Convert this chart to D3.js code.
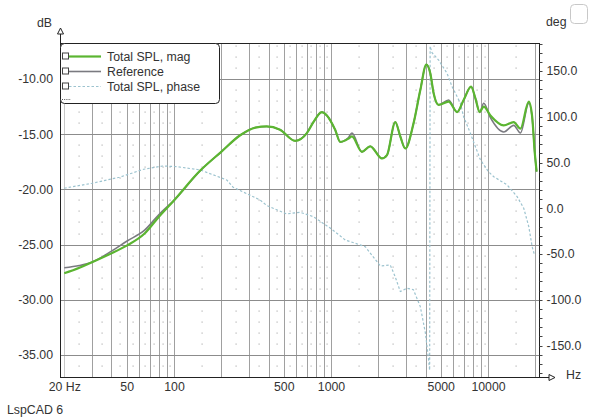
<!DOCTYPE html>
<html><head><meta charset="utf-8">
<script src="https://cdn.jsdelivr.net/npm/d3@7"></script>
<style>
body{margin:0;background:#fff;}
svg text{font-family:"Liberation Sans",Arial,sans-serif;font-size:12.3px;fill:#333;}
</style>
</head><body><svg id="c" width="600" height="419"></svg>
<script>
// ---- data ----
const magFreq = [20,25,30,40,50,65,80,100,147,200,264,330,390,474,591,702,773,875,941,1063,1145,1293,1359,1574,1778,2112,2273,2567,2763,2973,3358,3706,4047,4293,4506,4848,5616,6355,6998,7803,8312,8854,9389,10360,12597,14583,16091,18182,19108,19857,20400];
const magDb   = [-27.6,-27.1,-26.6,-25.8,-25.1,-24.0,-22.5,-21.0,-18.3,-16.6,-15.1,-14.4,-14.3,-14.6,-15.6,-14.9,-13.9,-13.0,-13.3,-14.6,-15.7,-15.4,-15.2,-16.6,-16.1,-17.2,-16.9,-13.9,-15.2,-16.3,-14.0,-11.0,-8.7,-9.5,-11.3,-12.35,-12.05,-13.0,-11.9,-10.7,-11.75,-13.0,-12.5,-13.3,-14.2,-13.9,-14.5,-12.05,-13.4,-16.7,-18.4];
const refDb   = [-27.1,-26.9,-26.6,-25.6,-24.7,-23.7,-22.3,-21.0,-18.3,-16.6,-15.1,-14.4,-14.3,-14.6,-15.6,-14.9,-13.9,-13.0,-13.3,-14.6,-15.7,-15.3,-14.9,-16.6,-16.1,-17.2,-16.9,-13.9,-15.2,-16.3,-14.0,-11.0,-8.7,-9.5,-11.3,-12.35,-11.9,-13.0,-11.9,-10.7,-11.75,-13.0,-12.2,-13.5,-14.8,-14.2,-14.9,-12.2,-13.5,-16.7,-18.4];
const phaseFreq = [20,30,45,64,85,104,147,217,238,354,390,523,636,773,988,1232,1653,2060,2385,2567,2763,3048,3350,3706,3990,4187,4250,4280,4400,4848,5485,5902,6668,6998,7722,8312,8943,10060,10876,13240,15330,16890,18182,19108,19770];
const phaseDeg  = [21.9,27.3,33.9,42.6,46.2,45.5,41.9,30.9,23,9,3,-6.2,-4.4,-9.2,-21.6,-34.6,-42,-63,-62,-75,-91,-87.4,-89,-107.5,-136,-166,-177,177,170,162,147.5,133,114.8,100,82,67.3,53,40,34.5,25.5,12.7,0,-20,-42,-51];
const gridFreq = [20,30,40,50,60,70,80,90,100,200,300,400,500,600,700,800,900,1000,2000,3000,4000,5000,6000,7000,8000,9000,10000,20000];
const dotFreq = [25,35,45,55,65,75,85,95,150,250,350,450,550,650,750,850,950,1500,2500,3500,4500,5500,6500,7500,8500,9500,15000];
const xTicks = [20,50,100,500,1000,5000,10000];
const dbTicks = [-35,-30,-25,-20,-15,-10];
const degTicks = [-150,-100,-50,0,50,100,150];
const seriesNames = ["Total SPL, mag","Reference","Total SPL, phase"];

// ---- scales ----
const L = 60, R = 539.5, T = 43, B = 377;
const x = d3.scaleLog().domain([18.8, 21280]).range([L, R]);
const y = d3.scaleLinear().domain([-37, -6.74]).range([B, T]);
const yr = d3.scaleLinear().domain([-184.4, 180.6]).range([B, T]);

const svg = d3.select("#c");
svg.append("rect").attr("width",600).attr("height",419).attr("fill","#fff");

// minor dots
const dotRows = d3.range(-36, -6).filter(v => v % 5 !== 0);
const gDots = svg.append("g").attr("fill","#b5b5b5");
dotFreq.forEach(f => dotRows.forEach(v => {
  gDots.append("rect").attr("x", Math.round(x(f))-0.5).attr("y", Math.round(y(v))-0.5).attr("width",1.2).attr("height",1.2);
}));

// vertical grid
svg.append("g").selectAll("line").data(gridFreq).join("line")
  .attr("x1", d => Math.round(x(d))+0.5).attr("x2", d => Math.round(x(d))+0.5)
  .attr("y1", T).attr("y2", B)
  .attr("stroke", d => d===20 ? "#c8c8c8" : "#a0a0a0").attr("stroke-width",1);
// horizontal grid
svg.append("g").selectAll("line").data(dbTicks).join("line")
  .attr("x1", L).attr("x2", R)
  .attr("y1", d => Math.round(y(d))+0.5).attr("y2", d => Math.round(y(d))+0.5)
  .attr("stroke","#8c8c8c").attr("stroke-width",1);

// curves
const lineMag = d3.line().x((d,i) => x(magFreq[i])).y(d => y(d)).curve(d3.curveMonotoneX);
const linePh = d3.line().x((d,i) => x(phaseFreq[i])).y(d => yr(d)).curve(d3.curveLinear);
svg.append("path").attr("d", linePh(phaseDeg)).attr("fill","none")
  .attr("stroke","#9cc3cf").attr("stroke-width",1.2).attr("stroke-dasharray","2.5,2");
svg.append("path").attr("d", lineMag(refDb)).attr("fill","none")
  .attr("stroke","#7a7a80").attr("stroke-width",1.6);
svg.append("path").attr("d", lineMag(magDb)).attr("fill","none")
  .attr("stroke","#5bb531").attr("stroke-width",2.2);

// frame lines
svg.append("line").attr("x1",L).attr("x2",R).attr("y1",T+0.5).attr("y2",T+0.5).attr("stroke","#222");
svg.append("line").attr("x1",R).attr("x2",R).attr("y1",T).attr("y2",B).attr("stroke","#222");
svg.append("line").attr("x1",L+0.5).attr("x2",L+0.5).attr("y1",33).attr("y2",B).attr("stroke","#222");
svg.append("line").attr("x1",L).attr("x2",549).attr("y1",B+0.5).attr("y2",B+0.5).attr("stroke","#222");
// arrows (hollow)
svg.append("path").attr("d",`M${L+0.5},28 L${L-2.5},34 L${L+3.5},34 Z`).attr("fill","#fff").attr("stroke","#222");
svg.append("path").attr("d",`M555,${B+0.5} L549,${B-2.5} L549,${B+3.5} Z`).attr("fill","#fff").attr("stroke","#222");

// right axis minor ticks
svg.append("g").selectAll("line").data(d3.range(-180,181,10)).join("line")
  .attr("x1",R).attr("x2",R+3).attr("y1",d=>Math.round(yr(d))+0.5).attr("y2",d=>Math.round(yr(d))+0.5)
  .attr("stroke","#444");

// axes labels via d3 axes
const axL = svg.append("g").attr("transform",`translate(${L-7},0)`)
  .call(d3.axisLeft(y).tickValues(dbTicks).tickSize(0).tickPadding(0).tickFormat(d => d.toFixed(2)));
const axR = svg.append("g").attr("transform",`translate(${R+7},0)`)
  .call(d3.axisRight(yr).tickValues(degTicks).tickSize(0).tickPadding(0).tickFormat(d => d.toFixed(1)));
const axB = svg.append("g").attr("transform",`translate(0,${B+2})`)
  .call(d3.axisBottom(x).tickValues(xTicks).tickSize(0).tickPadding(0).tickFormat(d => d===20 ? "20 Hz" : String(d)));
[axL,axR,axB].forEach(a => { a.select(".domain").remove(); a.selectAll("text").attr("fill","#333").style("font-size","12.3px").style("font-family","Liberation Sans, Arial, sans-serif"); });
axB.selectAll("text").attr("dy","0.95em");

// titles
svg.append("text").attr("x",37).attr("y",27).text("dB");
svg.append("text").attr("x",546).attr("y",26).text("deg");
svg.append("text").attr("x",566).attr("y",379).text("Hz");
svg.append("text").attr("x",7).attr("y",414).text("LspCAD 6");
svg.append("rect").attr("x",570.5).attr("y",4.5).attr("width",17).attr("height",19).attr("rx",4)
  .attr("fill","#fff").attr("stroke","#c8c8c8");

// legend
const lg = svg.append("g");
lg.append("rect").attr("x",L+0.5).attr("y",T+0.5).attr("width",159).attr("height",60).attr("rx",4)
  .attr("fill","#fff").attr("stroke","#222");
const legStyles = [
  {c:"#5bb531", w:2.2, dash:null},
  {c:"#7a7a80", w:1.6, dash:null},
  {c:"#9cc3cf", w:1.2, dash:"2.5,2"}
];
seriesNames.forEach((n,i) => {
  const cy = 56.5 + i*15;
  lg.append("rect").attr("x",62.5).attr("y",cy-3.5).attr("width",6).attr("height",6)
    .attr("fill","#fff").attr("stroke","#444");
  lg.append("line").attr("x1",69).attr("x2",101).attr("y1",cy).attr("y2",cy)
    .attr("stroke",legStyles[i].c).attr("stroke-width",legStyles[i].w)
    .attr("stroke-dasharray",legStyles[i].dash);
  lg.append("text").attr("x",107).attr("y",cy+4.5).text(n);
});
lg.append("line").attr("x1",62).attr("x2",71).attr("y1",99.5).attr("y2",99.5)
  .attr("stroke","#555").attr("stroke-dasharray","1,1.2");
</script></body></html>
